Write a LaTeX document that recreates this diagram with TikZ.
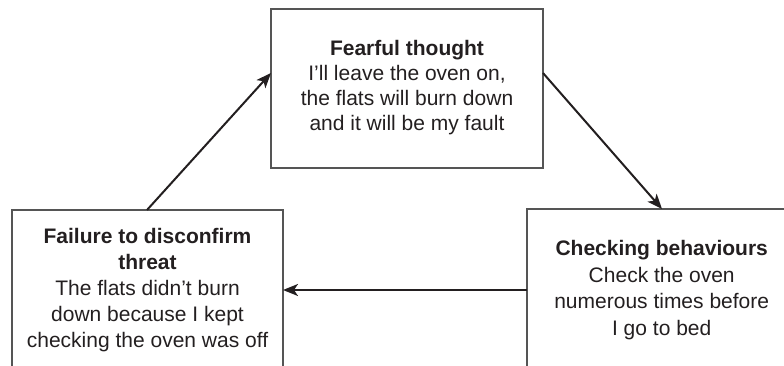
\documentclass[tikz,border=0pt]{standalone}
\usepackage{fontspec}
\setmainfont{Liberation Sans}
\usetikzlibrary{arrows.meta}
\definecolor{ink}{HTML}{231F20}
\definecolor{edge}{HTML}{555555}
\begin{document}
\begin{tikzpicture}[x=1pt,y=-1pt,
  box/.style={draw=edge,line width=1.1pt,inner sep=0pt,outer sep=0pt,anchor=north west},
  txt/.style={text=ink,align=center,inner sep=0pt},
  arr/.style={draw=ink,line width=2pt,-{Stealth[length=15pt,width=12pt,inset=4pt]}}]
\path[use as bounding box] (0,0) rectangle (784,366);
\clip (0,0) rectangle (784,366);
\node[box,minimum width=272pt,minimum height=159pt] (top) at (271,9) {};
\node[box,minimum width=271pt,minimum height=200pt] (left) at (12,210) {};
\node[box,minimum width=280pt,minimum height=200pt] (right) at (527,209) {};
\node[txt,font=\fontsize{21}{25}\selectfont] (toptext) at (407,87.5)
  {\textbf{Fearful thought}\\I’ll leave the oven on,\\the flats will burn down\\and it will be my fault};
\node[txt,font=\fontsize{21}{26.2}\selectfont] (lefttext) at (147.5,290)
  {\textbf{Failure to disconfirm}\\\textbf{threat}\\The flats didn’t burn\\down because I kept\\checking the oven was off};
\node[txt,font=\fontsize{21}{26.8}\selectfont] (righttext) at (661.7,290)
  {\textbf{Checking behaviours}\\Check the oven\\numerous times before\\I go to bed};
\draw[arr] ([xshift=135pt]left.north west) -- ([yshift=-64pt]top.north west);
\draw[arr] ([yshift=-64pt]top.north east) -- ([xshift=135pt]right.north west);
\draw[arr] ([yshift=-81pt]right.north west) -- ([yshift=-80pt]left.north east);
\end{tikzpicture}
\end{document}
